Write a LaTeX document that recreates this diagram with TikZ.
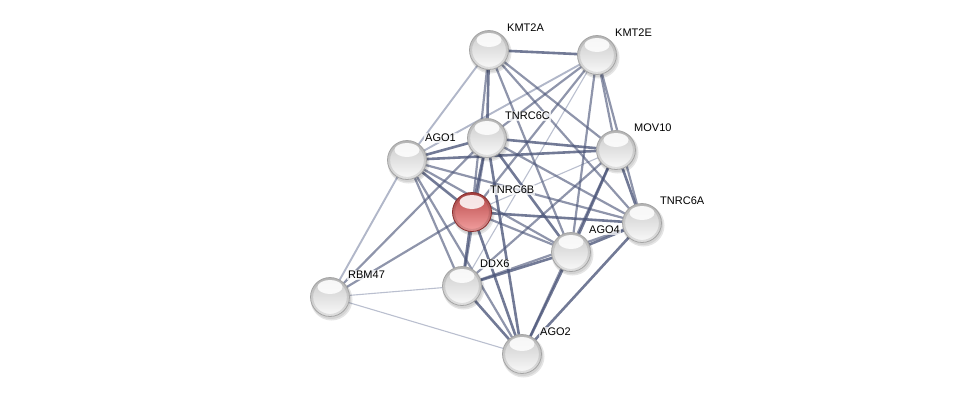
\documentclass[tikz,border=0pt]{standalone}
\usepackage{fontspec}
\setmainfont{Liberation Sans}
\usetikzlibrary{calc}
\definecolor{edark}{HTML}{4A5478}
\definecolor{elight}{HTML}{A3AABF}
\definecolor{rtop}{HTML}{B84848}
\definecolor{rmid}{HTML}{D46868}
\definecolor{rbot}{HTML}{F3A0A0}
\definecolor{rrim}{HTML}{8A2E2E}
\tikzset{
  prot/.style={circle, minimum size=39pt, inner sep=0pt, top color=gray!42, middle color=gray!24, bottom color=gray!4, draw=gray!70, line width=0.8pt},
  query/.style={circle, minimum size=39pt, inner sep=0pt, top color=rtop, middle color=rmid, bottom color=rbot, draw=rrim, line width=0.8pt},
  ring/.style={draw=black, opacity=0.10, line width=2.2pt},
  hilite/.style={fill=white, opacity=0.85},
  lbl/.style={anchor=west, font=\fontsize{11}{13}\selectfont, fill=white, fill opacity=0.75, text opacity=1, inner sep=1pt},
  ed/.style={draw=edark, line width=2.6pt, opacity=0.78},
  em/.style={draw=edark, line width=2.2pt, opacity=0.62},
  el/.style={draw=elight, line width=1.9pt, opacity=0.85},
  ev/.style={draw=elight, line width=1.1pt, opacity=0.75},
}
\begin{document}
\begin{tikzpicture}[x=1pt,y=-1pt]
\useasboundingbox (0,0) rectangle (976,400);
% coordinates
\coordinate (pKMT2A) at (489,50);
\coordinate (pKMT2E) at (597,55);
\coordinate (pTNRC6C) at (487,138);
\coordinate (pMOV10) at (616,150);
\coordinate (pAGO1) at (407,160);
\coordinate (pTNRC6B) at (472,212);
\coordinate (pTNRC6A) at (642,223);
\coordinate (pAGO4) at (571,252);
\coordinate (pDDX6) at (462,286);
\coordinate (pRBM47) at (330,297);
\coordinate (pAGO2) at (522,354);
% light edges
\draw[el] (pKMT2A) -- (pAGO1);
\draw[el] (pKMT2E) -- (pAGO1);
\draw[ev] (pKMT2E) -- (pDDX6);
\draw[el] (pAGO1) -- (pRBM47);
\draw[ev] (pRBM47) -- (pDDX6);
\draw[ev] (pRBM47) -- (pAGO2);
\draw[ev] (pTNRC6B) -- (pMOV10);
% medium edges
\draw[em] (pKMT2A) -- (pMOV10);
\draw[em] (pKMT2A) -- (pTNRC6A);
\draw[em] (pKMT2A) -- (pAGO4);
\draw[em] (pKMT2A) -- (pTNRC6B);
\draw[em] (pKMT2E) -- (pTNRC6C);
\draw[em] (pKMT2E) -- (pTNRC6B);
\draw[em] (pKMT2E) -- (pAGO4);
\draw[em] (pKMT2E) -- (pTNRC6A);
\draw[em] (pKMT2E) -- (pMOV10);
\draw[em] (pRBM47) -- (pTNRC6C);
\draw[em] (pRBM47) -- (pTNRC6B);
\draw[em] (pAGO1) -- (pDDX6);
\draw[em] (pAGO1) -- (pAGO2);
\draw[em] (pAGO1) -- (pAGO4);
\draw[em] (pAGO1) -- (pTNRC6A);
\draw[em] (pTNRC6C) -- (pDDX6);
\draw[em] (pTNRC6C) -- (pTNRC6A);
\draw[em] (pMOV10) -- (pDDX6);
\draw[em] (pMOV10) -- (pAGO2);
\draw[em] (pTNRC6A) -- (pDDX6);
\draw[em] (pTNRC6B) -- (pAGO4);
% dark edges
\draw[ed] (pKMT2A) -- (pKMT2E);
\draw[ed] (pKMT2A) -- (pTNRC6C);
\draw[ed] (pAGO1) -- (pTNRC6C);
\draw[ed] (pAGO1) -- (pMOV10);
\draw[ed] (pAGO1) -- (pTNRC6B);
\draw[ed] (pTNRC6C) -- (pMOV10);
\draw[ed] (pTNRC6C) -- (pTNRC6B);
\draw[ed] (pTNRC6C) -- (pAGO4);
\draw[ed] (pTNRC6C) -- (pAGO2);
\draw[ed] (pMOV10) -- (pTNRC6A);
\draw[ed] (pMOV10) -- (pAGO4);
\draw[ed] (pTNRC6B) -- (pTNRC6A);
\draw[ed] (pTNRC6B) -- (pDDX6);
\draw[ed] (pTNRC6B) -- (pAGO2);
\draw[ed] (pTNRC6A) -- (pAGO4);
\draw[ed] (pTNRC6A) -- (pAGO2);
\draw[ed] (pAGO4) -- (pDDX6);
\draw[ed] (pAGO4) -- (pAGO2);
\draw[ed] (pDDX6) -- (pAGO2);
% shadows
\foreach \p in {KMT2A,KMT2E,TNRC6C,MOV10,AGO1,TNRC6B,TNRC6A,AGO4,DDX6,RBM47,AGO2}{
  \fill[black, opacity=0.10] ($(p\p)+(1.5,2.5)$) circle (21pt);
  \fill[black, opacity=0.08] ($(p\p)+(1,2)$) circle (20pt);
}
% nodes
\node[prot] (KMT2A) at (pKMT2A) {};
\node[prot] (KMT2E) at (pKMT2E) {};
\node[prot] (TNRC6C) at (pTNRC6C) {};
\node[prot] (MOV10) at (pMOV10) {};
\node[prot] (AGO1) at (pAGO1) {};
\node[query] (TNRC6B) at (pTNRC6B) {};
\node[prot] (TNRC6A) at (pTNRC6A) {};
\node[prot] (AGO4) at (pAGO4) {};
\node[prot] (DDX6) at (pDDX6) {};
\node[prot] (RBM47) at (pRBM47) {};
\node[prot] (AGO2) at (pAGO2) {};
% rims and highlights
\foreach \p in {KMT2A,KMT2E,TNRC6C,MOV10,AGO1,TNRC6B,TNRC6A,AGO4,DDX6,RBM47,AGO2}{
  \draw[ring] (p\p) circle (18pt);
  \fill[hilite] ($(p\p)+(0,-10)$) ellipse (12.5pt and 7pt);
}
% labels
\foreach \p in {KMT2A,KMT2E,TNRC6C,MOV10,AGO1,TNRC6B,TNRC6A,AGO4,DDX6,RBM47,AGO2}{
  \node[lbl] (l\p) at ($(p\p)+(17,-22)$) {\p};
}
\end{tikzpicture}
\end{document}
